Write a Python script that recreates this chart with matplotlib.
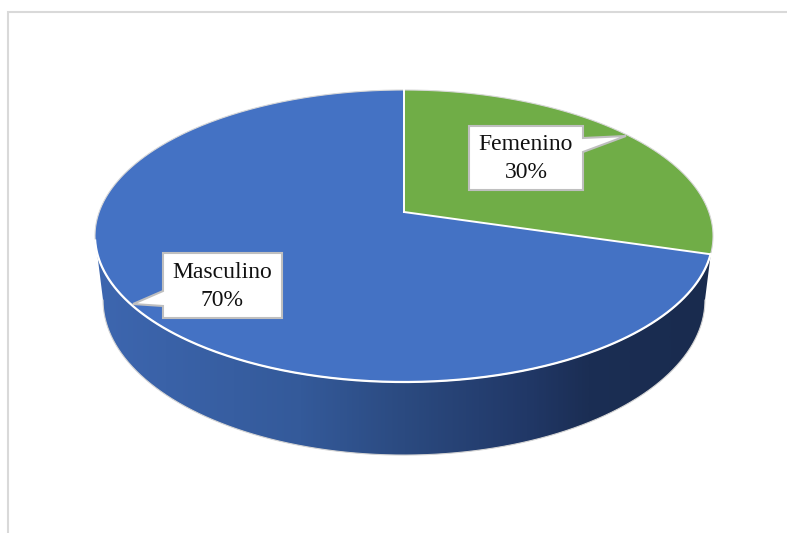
import numpy as np
import matplotlib
matplotlib.use('Agg')
import matplotlib.pyplot as plt
from matplotlib.colors import LinearSegmentedColormap
from matplotlib.patches import Polygon

categories = ['Femenino', 'Masculino']
values = [30, 70]
colors = ['#70AD47', '#4472C4']

W, H = 787, 533


# project a point of the flat disc to pixels, the far side looks smaller
def project(angle, radius=1.0, sx=1.0, sy=1.0, cy=212):
    u = radius * np.sin(angle)
    v = radius * np.cos(angle)
    w = 1 + 0.1644 * v
    return 404 + sx * 304.8 * u / w, cy - sy * 142.06 * v / w


def arc(a0, a1, **kw):
    t = np.linspace(a0, a1, 300)
    x, y = project(t, **kw)
    return np.column_stack([x, y])


fig = plt.figure(figsize=(W / 100, H / 100), dpi=100)
ax = fig.add_axes([0, 0, 1, 1])
ax.set_xlim(0, W)
ax.set_ylim(H, 0)
ax.axis('off')

# chart area border, only top and left show up
ax.plot([8, 8, W], [H, 12, 12], color='#D9D9D9', lw=1.5, solid_joinstyle='miter')

# angles as fractions of the full turn, clockwise from the top
fracs = np.array(values) / sum(values)
edges = np.concatenate([[0], np.cumsum(fracs)]) * 2 * np.pi
edges = edges - 0.028 * np.sin(edges)  # small view correction, seam sits a bit higher

# side wall, arcs run through the front of the disc between the widest points
right_a, left_a = np.radians(99.5), np.radians(260.5)
top_front = arc(right_a, left_a)
bottom_front = arc(left_a, right_a, sx=0.974, sy=1.062, cy=274.5)
side = Polygon(np.vstack([top_front, bottom_front]), closed=True, fc='none', ec='none', zorder=1)
ax.add_patch(side)
side_cmap = LinearSegmentedColormap.from_list(
    'side', [(0, '#3D66AF'), (0.33, '#345A9A'), (0.5, '#2B4A80'),
             (0.7, '#213867'), (0.8, '#1B2E54'), (1, '#192B4E')])
grad = ax.imshow(np.linspace(0, 1, 512).reshape(1, -1), cmap=side_cmap, aspect='auto',
                 extent=[97, 712, H, 0], zorder=1)
grad.set_clip_path(side)
ax.set_xlim(0, W)
ax.set_ylim(H, 0)
ax.plot(*bottom_front.T, color='#D4D4D4', lw=0.8, zorder=1.5)

# top of the pie
apex = project(0, radius=0)
for i, c in enumerate(colors):
    pts = np.vstack([[apex], arc(edges[i], edges[i + 1])])
    ax.add_patch(Polygon(pts, closed=True, fc=c, ec='none', zorder=2))
    ax.plot(*arc(edges[i], edges[i + 1]).T, color='#D8D8D8', lw=0.8, zorder=2.2)
ax.plot(*arc(edges[1], left_a - 0.03).T, color='white', lw=1.6, zorder=2.3)
for e in edges[:2]:
    x, y = project(e)
    ax.plot([apex[0], x], [apex[1], y], color='white', lw=1.4, zorder=2.4)

# data callouts
callouts = {
    'Femenino': ([(469, 126), (583, 126), (583, 138), (626, 136), (583, 152), (583, 190), (469, 190)], 526, 145),
    'Masculino': ([(163, 253), (282, 253), (282, 318), (163, 318), (163, 306), (133, 304), (163, 291)], 222.5, 273),
}
for name, val in zip(categories, values):
    outline, tx, ty = callouts[name]
    ax.add_patch(Polygon(outline, closed=True, fc='white', ec='#BFBFBF', lw=1.5, zorder=3, joinstyle='miter'))
    ax.text(tx, ty, name, ha='center', va='center', fontsize=17, family='Liberation Serif', color='#111111', zorder=4)
    ax.text(tx, ty + 28, f'{val}%', ha='center', va='center', fontsize=17, family='Liberation Serif', color='#111111', zorder=4)

fig.savefig('out.png', dpi=100)
